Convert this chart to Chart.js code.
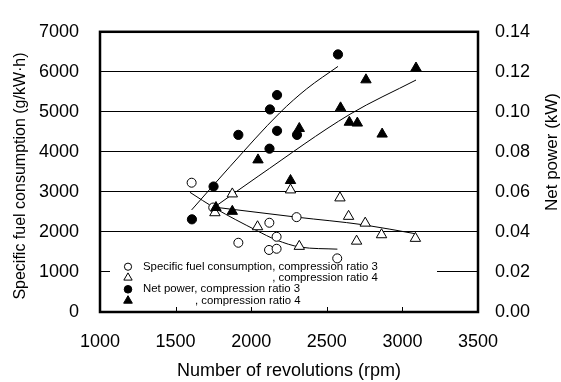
<!DOCTYPE html>
<html><head><meta charset="utf-8">
<script src="https://cdn.jsdelivr.net/npm/chart.js@4/dist/chart.umd.min.js"></script>
<style>html,body{margin:0;padding:0;background:#fff}</style>
</head><body>
<canvas id="c" width="561" height="382"></canvas>
<script>
// ---- data ----
const xTitle = 'Number of revolutions (rpm)';
const yTitle = 'Specific fuel consumption (g/kW\u00b7h)';
const y2Title = 'Net power (kW)';
const legendLabels = ['Specific fuel consumption, compression ratio 3', ', compression ratio 4', 'Net power, compression ratio 3', ', compression ratio 4'];

// Specific fuel consumption, compression ratio 3 (open circles)
const sfc3Rpm = [1606, 1749, 1915, 2118, 2120, 2168, 2168, 2300, 2569];
const sfc3Val = [3230, 2610, 1730, 1550, 2230, 1880, 1580, 2370, 1340];
// Specific fuel consumption, compression ratio 4 (open triangles)
const sfc4Rpm = [1760, 1875, 2042, 2260, 2318, 2587, 2644, 2697, 2754, 2862, 3086];
const sfc4Val = [2480, 2950, 2130, 3050, 1640, 2850, 2390, 1770, 2220, 1930, 1840];
// Net power, compression ratio 3 (filled circles)
const pow3Rpm = [1608, 1751, 1915, 2121, 2124, 2171, 2171, 2303, 2574];
const pow3Val = [0.0463, 0.0627, 0.0885, 0.0816, 0.1012, 0.0905, 0.1084, 0.0885, 0.1287];
// Net power, compression ratio 4 (filled triangles)
const pow4Rpm = [1767, 1875, 2045, 2260, 2318, 2591, 2649, 2702, 2759, 2866, 3090];
const pow4Val = [0.0522, 0.0503, 0.0760, 0.0657, 0.0917, 0.1020, 0.0948, 0.0944, 0.1160, 0.0889, 0.1219];

// Trend curves
const sfc3FitRpm = [1595, 1760, 2036, 2168, 2323, 2570];
const sfc3FitVal = [2990, 2594, 2036, 1797, 1623, 1570];
const sfc4FitRpm = [1760, 2300, 2741, 3083];
const sfc4FitVal = [2618, 2370, 2179, 1957];
const pow3FitRpm = [1606, 1859, 2190, 2367, 2574];
const pow3FitVal = [0.051, 0.0726, 0.0996, 0.1115, 0.1227];
const pow4FitRpm = [1749, 2046, 2653, 3090];
const pow4FitVal = [0.052, 0.0678, 0.0988, 0.1159];

// ticks
const xTicks = [1000, 1500, 2000, 2500, 3000, 3500];
const yTicks = [0, 1000, 2000, 3000, 4000, 5000, 6000, 7000];
const y2Ticks = [0, 0.02, 0.04, 0.06, 0.08, 0.10, 0.12, 0.14];

// ---- chart ----
const pts = (xs, ys) => xs.map((x, i) => ({x, y: ys[i]}));
const FONT = "'Liberation Sans', Arial, sans-serif";
Chart.defaults.font.family = FONT;
Chart.defaults.color = '#000';

function marker(data, axis, style, filled, r, order) {
  return {type: 'scatter', data, yAxisID: axis, pointStyle: style,
    pointRadius: r, pointHoverRadius: r, pointBorderWidth: 1,
    pointBackgroundColor: filled ? '#000' : '#fff', pointBorderColor: '#000',
    showLine: false, order};
}
function fit(data, axis) {
  return {type: 'scatter', data, yAxisID: axis, showLine: true, pointRadius: 0,
    borderColor: '#000', borderWidth: 1, tension: 0.4, cubicInterpolationMode: 'monotone',
    fill: false, order: 10};
}

const legendPlugin = {
  id: 'inlineLegend',
  beforeDatasetsDraw(chart) {
    const ctx = chart.ctx;
    ctx.save();
    ctx.fillStyle = '#fff';
    ctx.fillRect(110, 261, 327, 50);
    const styles = [['circle', false, 3.6], ['triangle', false, 4.8], ['circle', true, 3.8], ['triangle', true, 5]];
    const ys = [266.7, 277.7, 289.3, 300.7];
    ctx.font = '11.4px ' + FONT;
    ctx.textBaseline = 'middle';
    const off1 = ctx.measureText('Specific fuel consumption').width;
    const off3 = ctx.measureText('Net power').width;
    const xs = [143, 143 + off1, 143, 143 + off3];
    styles.forEach((s, i) => {
      ctx.fillStyle = s[1] ? '#000' : '#fff';
      ctx.strokeStyle = '#000';
      ctx.lineWidth = 1;
      Chart.helpers.drawPoint(ctx, {pointStyle: s[0], radius: s[2], borderWidth: 1}, 128, ys[i]);
      ctx.fillStyle = '#000';
      ctx.fillText(legendLabels[i], xs[i], ys[i]);
    });
    ctx.restore();
  }
};

const framePlugin = {
  id: 'frame',
  afterDraw(chart) {
    const {ctx, chartArea: a, scales} = chart;
    ctx.save();
    ctx.strokeStyle = '#000';
    ctx.lineWidth = 1;
    xTicks.slice(1, -1).forEach(v => {
      const px = Math.round(scales.x.getPixelForValue(v)) + 0.5;
      ctx.beginPath(); ctx.moveTo(px, a.bottom); ctx.lineTo(px, a.bottom - 5); ctx.stroke();
    });
    ctx.lineWidth = 2.5;
    ctx.strokeRect(a.left, a.top, a.right - a.left, a.bottom - a.top);
    // vertical axis titles
    ctx.fillStyle = '#000';
    ctx.textAlign = 'center';
    ctx.textBaseline = 'middle';
    ctx.font = '16px ' + FONT;
    ctx.translate(21, 176); ctx.rotate(-Math.PI / 2);
    ctx.fillText(yTitle, 0, 0);
    ctx.setTransform(1, 0, 0, 1, 0, 0);
    ctx.font = '17px ' + FONT;
    ctx.translate(552, 152); ctx.rotate(-Math.PI / 2);
    ctx.fillText(y2Title, 0, 0);
    ctx.restore();
  }
};

new Chart(document.getElementById('c'), {
  type: 'scatter',
  data: {datasets: [
    fit(pts(sfc3FitRpm, sfc3FitVal), 'y'),
    fit(pts(sfc4FitRpm, sfc4FitVal), 'y'),
    fit(pts(pow3FitRpm, pow3FitVal), 'y2'),
    fit(pts(pow4FitRpm, pow4FitVal), 'y2'),
    marker(pts(sfc3Rpm, sfc3Val), 'y', 'circle', false, 4.5, 4),
    marker(pts(sfc4Rpm, sfc4Val), 'y', 'triangle', false, 6, 3),
    marker(pts(pow3Rpm, pow3Val), 'y2', 'circle', true, 4.6, 2),
    marker(pts(pow4Rpm, pow4Val), 'y2', 'triangle', true, 6, 1),
  ]},
  options: {
    responsive: false, animation: false,
    layout: {padding: {top: 19, left: 0, right: 0, bottom: 0}},
    plugins: {legend: {display: false}, tooltip: {enabled: false}},
    scales: {
      x: {type: 'linear', min: xTicks[0], max: xTicks[xTicks.length - 1],
        afterBuildTicks: s => { s.ticks = xTicks.map(v => ({value: v})); },
        afterFit: s => { s.height = 70; },
        grid: {display: false, drawTicks: false}, border: {display: false},
        ticks: {padding: 19, font: {size: 18}, color: '#000', callback: v => String(v)},
        title: {display: true, text: xTitle, font: {size: 18}, color: '#000', padding: {top: 0, bottom: 0}}},
      y: {type: 'linear', position: 'left', min: yTicks[0], max: yTicks[yTicks.length - 1],
        afterBuildTicks: s => { s.ticks = yTicks.map(v => ({value: v})); },
        afterFit: s => { s.width = 100; },
        grid: {color: '#000', lineWidth: 1, drawTicks: false}, border: {display: false},
        ticks: {padding: 21, font: {size: 18}, color: '#000', callback: v => String(v)}},
      y2: {type: 'linear', position: 'right', min: y2Ticks[0], max: y2Ticks[y2Ticks.length - 1],
        afterBuildTicks: s => { s.ticks = y2Ticks.map(v => ({value: v})); },
        afterFit: s => { s.width = 83; },
        grid: {display: false, drawOnChartArea: false, drawTicks: false}, border: {display: false},
        ticks: {padding: 17, font: {size: 18}, color: '#000', callback: v => v.toFixed(2)}}
    }
  },
  plugins: [legendPlugin, framePlugin]
});
</script>
</body></html>
